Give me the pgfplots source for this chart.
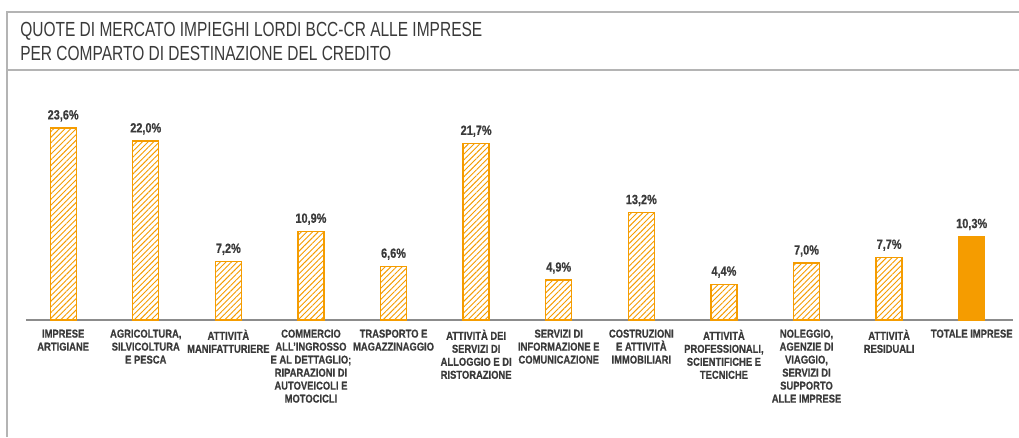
\documentclass[border=0pt]{standalone}
\usepackage{fontspec}
\setmainfont{Liberation Sans}[FakeStretch=0.82, BoldFont={Liberation Sans Bold}, BoldFeatures={FakeStretch=0.82, FakeBold=0.6}]
\newfontfamily\titlefont{Liberation Sans}[FakeStretch=0.76]
\usepackage{pgfplots}
\pgfplotsset{compat=1.18}
\usetikzlibrary{patterns.meta}
\definecolor{bccorange}{HTML}{F59C00}
\definecolor{txtgray}{HTML}{3A3A3A}
\definecolor{framegray}{HTML}{B4B4B4}
\definecolor{axgray}{HTML}{8C8C8C}
\begin{document}
\begin{tikzpicture}
\path[use as bounding box] (0,0) rectangle (764.25pt,327.75pt);
\draw[framegray,line width=1.5pt] (5.25pt,0) -- (5.25pt,318.75pt) -- (764.25pt,318.75pt);
\draw[framegray,line width=1.5pt] (5.25pt,275.25pt) -- (764.25pt,275.25pt);
\node[anchor=base west, font=\titlefont\fontsize{15.3}{18}\selectfont, text=txtgray, inner sep=0pt] at (15pt,300.75pt) {QUOTE DI MERCATO IMPIEGHI LORDI BCC-CR ALLE IMPRESE};
\node[anchor=base west, font=\titlefont\fontsize{15.3}{18}\selectfont, text=txtgray, inner sep=0pt] at (15pt,282.75pt) {PER COMPARTO DI DESTINAZIONE DEL CREDITO};
\begin{axis}[
  at={(19.5pt,87.75pt)}, anchor=south west,
  scale only axis, width=740.25pt, height=152.6pt,
  xmin=-0.45, xmax=11.5, ymin=0, ymax=25,
  clip=false,
  axis x line*=bottom, axis y line=none,
  x axis line style={-, draw=axgray, line width=0.9pt},
  ytick=\empty,
  xtick={0,1,2,3,4,5,6,7,8,9,10,11},
  major tick length=0pt,
  xticklabels={{IMPRESE\\ARTIGIANE},{AGRICOLTURA,\\SILVICOLTURA\\E PESCA},{ATTIVITÀ\\MANIFATTURIERE},{COMMERCIO\\ALL'INGROSSO\\E AL DETTAGLIO;\\RIPARAZIONI DI\\AUTOVEICOLI E\\MOTOCICLI},{TRASPORTO E\\MAGAZZINAGGIO},{ATTIVITÀ DEI\\SERVIZI DI\\ALLOGGIO E DI\\RISTORAZIONE},{SERVIZI DI\\INFORMAZIONE E\\COMUNICAZIONE},{COSTRUZIONI\\E ATTIVITÀ\\IMMOBILIARI},{ATTIVITÀ\\PROFESSIONALI,\\SCIENTIFICHE E\\TECNICHE},{NOLEGGIO,\\AGENZIE DI\\VIAGGIO,\\SERVIZI DI\\SUPPORTO\\ALLE IMPRESE},{ATTIVITÀ\\RESIDUALI},{TOTALE IMPRESE}},
  xticklabel style={font=\bfseries\fontsize{8.6}{9.75}\selectfont, text=txtgray, align=center, anchor=north, inner sep=0pt, yshift=-7pt},
  ybar, bar width=19.5pt,
  point meta=y,
  nodes near coords={\pgfmathprintnumber[fixed,fixed zerofill,precision=1,use comma,assume math mode=true]{\pgfplotspointmeta}\%},
  every node near coord/.append style={font=\bfseries\fontsize{10}{11}\selectfont, text=txtgray, yshift=1pt},
]
\addplot[bar shift=0pt, draw=bccorange, line width=1pt, pattern={Lines[angle=45,distance=3pt,line width=0.7pt]}, pattern color=bccorange]
  coordinates {(0,23.6) (1,22.0) (2,7.2) (3,10.9) (4,6.6) (5,21.7) (6,4.9) (7,13.2) (8,4.4) (9,7.0) (10,7.7)};
\addplot[bar shift=0pt, draw=bccorange, fill=bccorange]
  coordinates {(11,10.3)};
\end{axis}
\end{tikzpicture}
\end{document}
